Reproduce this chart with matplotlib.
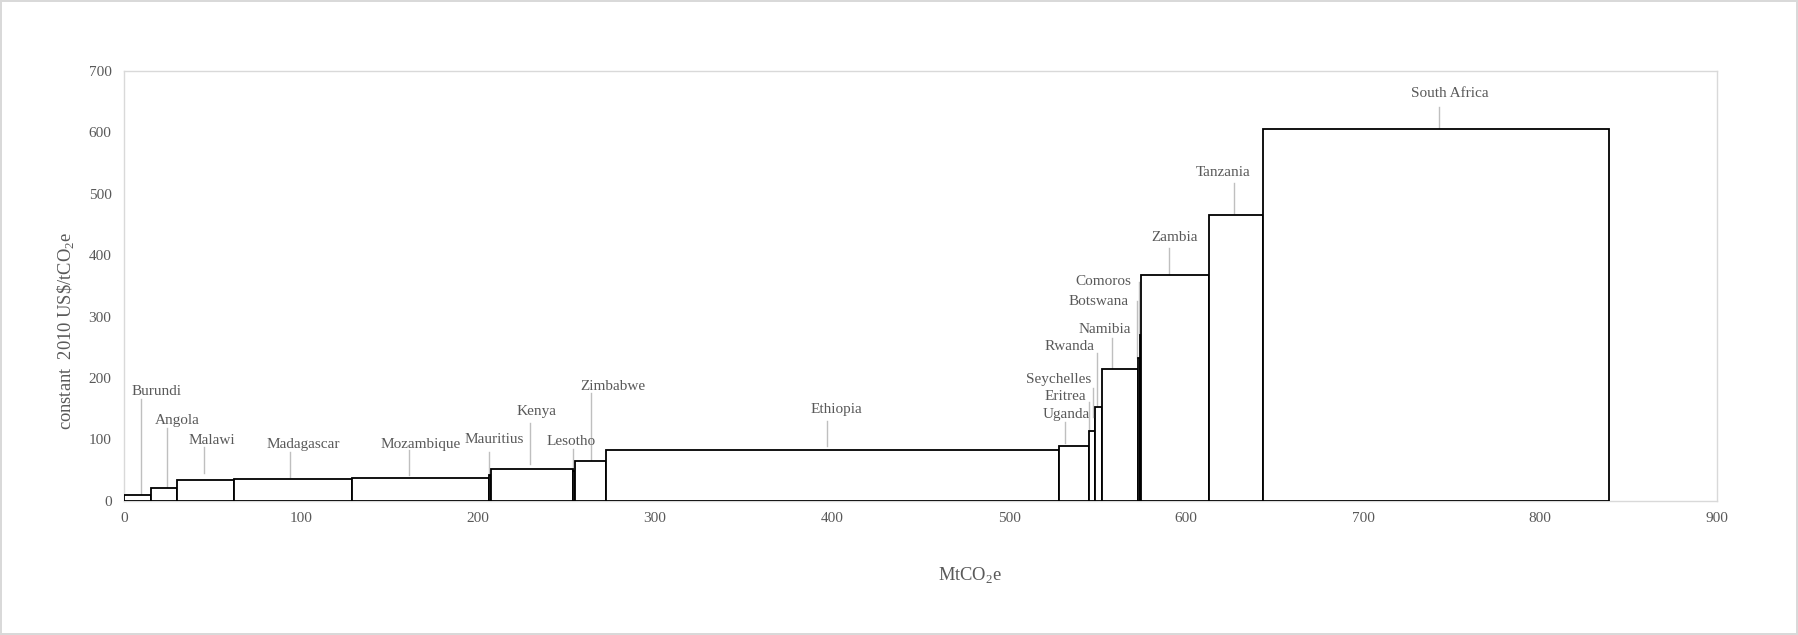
import matplotlib.pyplot as plt

countries = [
    "Burundi", "Angola", "Malawi", "Madagascar", "Mozambique", "Mauritius",
    "Kenya", "Lesotho", "Zimbabwe", "Ethiopia", "Uganda", "Eritrea",
    "Seychelles", "Rwanda", "Namibia", "Botswana", "Comoros", "Zambia",
    "Tanzania", "South Africa"
]
# abatement potential (MtCO2e) = bar widths
potential = [15, 15, 32, 67, 77, 1.5, 46, 1.5, 17, 256, 17, 3.3,
             0.5, 3.8, 20.5, 0.6, 0.6, 38.5, 30.4, 196]
# cost (constant 2010 US$/tCO2e) = bar heights
cost = [9, 21, 34.5, 36, 36.5, 42, 52, 49, 64, 83, 89.5, 114,
        135, 153, 214.5, 232, 270, 367, 465, 605]

# label centre (x, y) and leader line (x, top, bottom)
label_xy = [
    (18.4, 178), (30.3, 130), (49.4, 98), (101, 92), (167.8, 92), (209, 100),
    (233, 145), (252.4, 96), (276, 186), (402.6, 149), (532.3, 141), (532, 169),
    (528, 197), (534.2, 252), (553.9, 279), (550.7, 325), (553, 357),
    (593.7, 429), (621.2, 534), (748.8, 664)
]
leaders = [
    (9.6, 166, 9), (24, 118, 21), (45, 87, 45.6), (94, 80, 38), (160.7, 82.6, 42),
    (205.9, 78.8, 43), (229.4, 126, 59), (253.9, 84, 50), (263.6, 175, 66),
    (397.4, 130, 89), (531.4, 129, 93.5), (545.4, 161, 115), (547.3, 183, 137),
    (549.7, 240, 154), (558, 265, 216), (572.3, 325, 233), (573.2, 357, 271),
    (590.6, 411, 369), (626.8, 517, 468), (743.1, 642, 607)
]

plt.rcParams["font.family"] = ["Liberation Serif", "DejaVu Serif"]
plt.rcParams["mathtext.fontset"] = "custom"
plt.rcParams["mathtext.rm"] = "Liberation Serif"
grey = "#595959"

fig = plt.figure(figsize=(17.98, 6.35), dpi=100)
fig.patch.set_edgecolor("#d9d9d9")
fig.patch.set_linewidth(1.5)
ax = fig.add_axes([0.069, 0.2115, 0.886, 0.6767])

lefts = []
start = 0
for w in potential:
    lefts.append(start)
    start += w

ax.bar(lefts, cost, width=potential, align="edge", facecolor="white",
       edgecolor="black", linewidth=1.3, zorder=3)

for name, (tx, ty), (lx, ltop, lbot) in zip(countries, label_xy, leaders):
    ax.plot([lx, lx], [lbot, ltop], color="#bfbfbf", linewidth=1, zorder=2)
    ax.text(tx, ty, name, ha="center", va="center", fontsize=11, color=grey,
            zorder=4)

ax.set_xlim(0, 900)
ax.set_ylim(0, 700)
ax.set_xticks(range(0, 901, 100))
ax.set_yticks(range(0, 701, 100))
ax.tick_params(length=0, labelsize=11, labelcolor=grey)
ax.tick_params(axis="x", pad=8)
ax.tick_params(axis="y", pad=9)
for s in ax.spines.values():
    s.set_color("#d9d9d9")
    s.set_linewidth(1)

fig.text(970 / 1798, 1 - 575 / 635, r"MtCO$_\mathrm{2}$e", ha="center",
         va="center", fontsize=13.3, color=grey)
fig.text(66 / 1798, 1 - 331 / 635, r"constant  2010 US\$/tCO$_\mathrm{2}$e",
         ha="center", va="center", rotation=90, fontsize=13.3, color=grey)

fig.savefig("out.png", dpi=100)
